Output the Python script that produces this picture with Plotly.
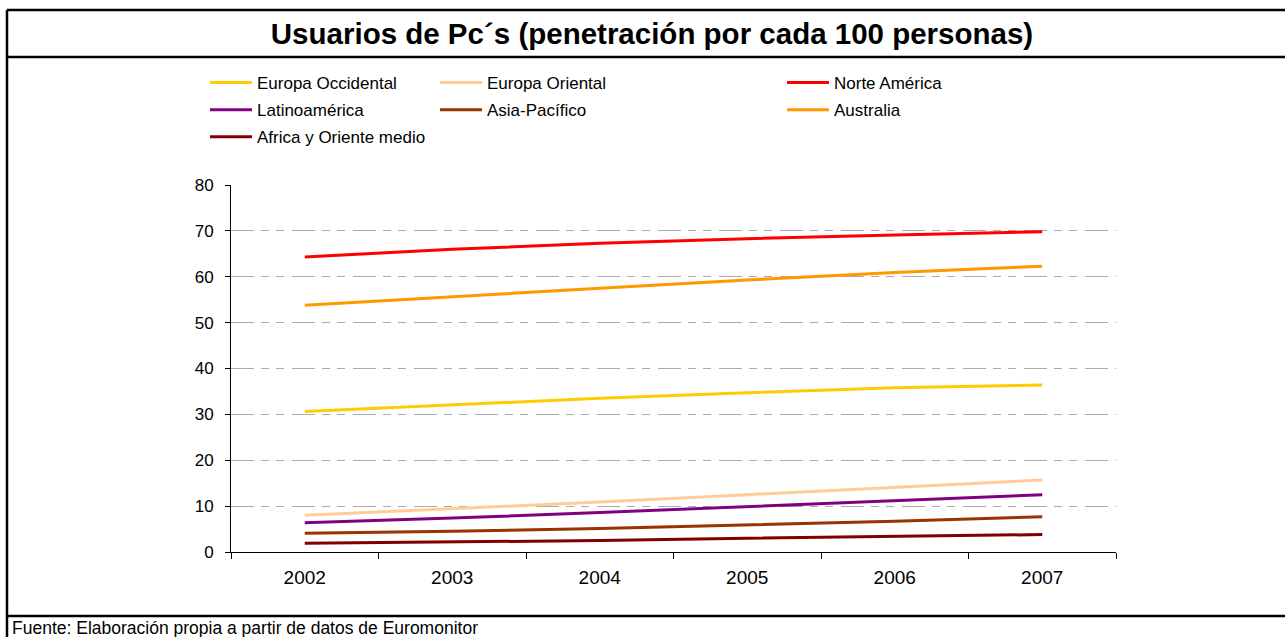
import plotly.graph_objects as go

# Data
years = ['2002', '2003', '2004', '2005', '2006', '2007']

europa_occidental = [30.6, 32.0, 33.5, 34.7, 35.8, 36.4]
europa_oriental = [8.0, 9.4, 10.9, 12.5, 14.1, 15.7]
norte_america = [64.3, 66.0, 67.3, 68.3, 69.1, 69.8]
latinoamerica = [6.4, 7.4, 8.6, 9.9, 11.2, 12.5]
asia_pacifico = [4.1, 4.5, 5.1, 5.9, 6.7, 7.7]
australia = [53.8, 55.7, 57.5, 59.3, 60.9, 62.3]
africa_om = [1.9, 2.2, 2.5, 3.0, 3.4, 3.8]

y_ticks = [0, 10, 20, 30, 40, 50, 60, 70, 80]

# (name, values, colour, legend column)
series = [
  ('Europa Occidental', europa_occidental, '#FFCC00', 'legend'),
  ('Europa Oriental', europa_oriental, '#FFCC99', 'legend2'),
  ('Norte América', norte_america, '#FF0000', 'legend3'),
  ('Latinoamérica', latinoamerica, '#800080', 'legend'),
  ('Asia-Pacífico', asia_pacifico, '#993300', 'legend2'),
  ('Australia', australia, '#FF9900', 'legend3'),
  ('Africa y Oriente medio', africa_om, '#800000', 'legend'),
]

FONT = 'Liberation Sans, Arial, sans-serif'
W, H = 1285, 637
L, R, T, B = 231, 169, 185, 85

# pixel -> paper helpers for the frame around the chart
def px(x):
  return (x - L) / (W - L - R)

def py(y):
  return (H - B - y) / (H - T - B)

fig = go.Figure()
for name, vals, col, leg in series:
  fig.add_trace(go.Scatter(
    x=years, y=vals, name=name, mode='lines',
    line=dict(color=col, width=3),
    legend=leg, legendgroup=name,
  ))

legend_common = dict(
  orientation='v', xanchor='left', yanchor='top', y=py(65),
  bgcolor='rgba(0,0,0,0)', font=dict(family=FONT, size=17, color='black'),
  tracegroupgap=2, itemwidth=42,
)

frame = dict(color='black', width=2.5)
shapes = [
  dict(type='line', xref='paper', yref='paper', x0=px(7), x1=px(1290), y0=py(10), y1=py(10), line=frame),
  dict(type='line', xref='paper', yref='paper', x0=px(7), x1=px(1290), y0=py(57), y1=py(57), line=frame),
  dict(type='line', xref='paper', yref='paper', x0=px(7), x1=px(1290), y0=py(616), y1=py(616), line=frame),
  dict(type='line', xref='paper', yref='paper', x0=px(7), x1=px(7), y0=py(10), y1=py(640), line=frame),
]

fig.update_layout(
  width=W, height=H,
  margin=dict(l=L, r=R, t=T, b=B),
  paper_bgcolor='white', plot_bgcolor='white',
  font=dict(family=FONT, color='black'),
  title=dict(
    text='<b>Usuarios de Pc´s (penetración por cada 100 personas)</b>',
    font=dict(family=FONT, size=29.5, color='black'),
    xref='container', yref='container', x=652 / W, y=1 - 33.5 / H,
    xanchor='center', yanchor='middle',
  ),
  legend=dict(legend_common, x=px(205)),
  legend2=dict(legend_common, x=px(435)),
  legend3=dict(legend_common, x=px(782)),
  shapes=shapes,
  annotations=[dict(
    text='Fuente: Elaboración propia a partir de datos de Euromonitor',
    xref='paper', yref='paper', x=px(10), y=py(628),
    xanchor='left', yanchor='middle', showarrow=False,
    font=dict(family=FONT, size=17.5, color='black'),
  )],
)

fig.update_xaxes(
  type='category', range=[-0.5, 5.5],
  showline=True, linecolor='black', linewidth=1,
  ticks='outside', tickson='boundaries', ticklen=6, tickcolor='black',
  showgrid=False, tickfont=dict(size=19), ticklabelstandoff=8,
)
fig.update_yaxes(
  range=[0, 80], tickvals=y_ticks,
  showline=True, linecolor='black', linewidth=1,
  ticks='outside', ticklen=5, tickcolor='black',
  showgrid=True, gridcolor='#ABABAB', gridwidth=1,
  griddash='23px,7px,8px,7px,8px,8px',
  zeroline=False, tickfont=dict(size=17), ticklabelstandoff=8,
)

# page body has a default 8px margin; drop it so the figure sits at 0,0
fig.write_html("out.html", config=dict(displayModeBar=False),
               post_script="document.body.style.margin='0';")
